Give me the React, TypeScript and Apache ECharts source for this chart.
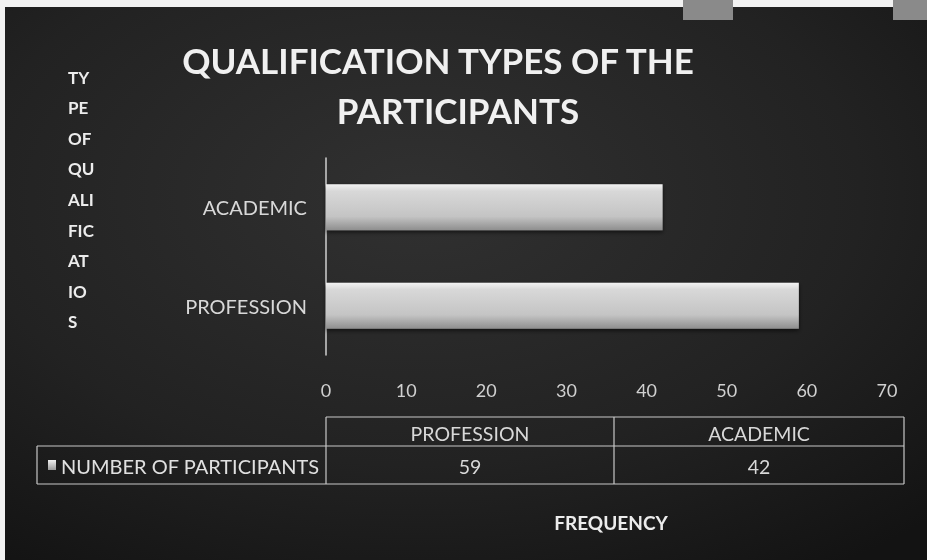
import React, { useEffect, useRef } from "react";
import * as echarts from "echarts";

const titleLines = ["QUALIFICATION TYPES OF THE", "PARTICIPANTS"];
const yTitleParts = ["TY", "PE", "OF", "QU", "ALI", "FIC", "AT", "IO", "S"];
const categories = ["PROFESSION", "ACADEMIC"];
const seriesName = "NUMBER OF PARTICIPANTS";
const participants = [59, 42];
const xTicks = { min: 0, max: 70, interval: 10 };
const xTitle = "FREQUENCY";

const FONT = "Lato, 'Open Sans', sans-serif";

export default function App() {
  const ref = useRef<HTMLDivElement>(null);
  useEffect(() => {
    document.body.style.margin = "0";
    const chart = echarts.init(ref.current!, null, { renderer: "svg" });

    const gridLeft = 326;
    const gridRight = 40;
    const tblLeft = 37, tblMid1 = 326, tblMid2 = 614, tblRight = 904;
    const tblTop = 417, tblSep = 446, tblBottom = 484;
    const lineStyle = { stroke: "#c8c8c8", lineWidth: 1.2 };

    const graphics: any[] = [];
    // background
    graphics.push({
      type: "rect", left: 0, top: 0, z: -10, silent: true,
      shape: { width: 927, height: 560 },
      style: {
        fill: new echarts.graphic.RadialGradient(0.45, 0.35, 0.8, [
          { offset: 0, color: "#313131" },
          { offset: 0.6, color: "#222222" },
          { offset: 1, color: "#131313" },
        ]),
      },
    });
    // white border strips
    graphics.push({ type: "rect", z: -9, shape: { x: 0, y: 0, width: 927, height: 7 }, style: { fill: "#f2f2f2" } });
    graphics.push({ type: "rect", z: -9, shape: { x: 0, y: 0, width: 5, height: 560 }, style: { fill: "#f2f2f2" } });
    graphics.push({ type: "rect", z: -8, shape: { x: 683, y: 0, width: 50, height: 20 }, style: { fill: "#8a8a8a" } });
    graphics.push({ type: "rect", z: -8, shape: { x: 893, y: 0, width: 34, height: 20 }, style: { fill: "#8a8a8a" } });

    // title
    titleLines.forEach((t, i) => {
      graphics.push({
        type: "text", x: i === 0 ? 438 : 458, y: 60 + i * 50,
        style: { text: t, fill: "#f0f0f0", font: `bold 35px ${FONT}`, align: "center", verticalAlign: "middle",
          shadowColor: "rgba(0,0,0,0.8)", shadowBlur: 4, shadowOffsetX: 2, shadowOffsetY: 2 },
      });
    });
    // y title stacked
    yTitleParts.forEach((t, i) => {
      graphics.push({
        type: "text", x: 68, y: 77 + i * 30.6,
        style: { text: t, fill: "#ececec", font: `bold 17px ${FONT}`, align: "left", verticalAlign: "middle" },
      });
    });
    // x title
    graphics.push({
      type: "text", x: 611, y: 522,
      style: { text: xTitle, fill: "#ececec", font: `bold 19px ${FONT}`, align: "center", verticalAlign: "middle" },
    });

    // data table
    const hl = (x1: number, y1: number, x2: number, y2: number) =>
      graphics.push({ type: "line", shape: { x1, y1, x2, y2 }, style: lineStyle });
    hl(tblMid1, tblTop, tblRight, tblTop);
    hl(tblLeft, tblSep, tblRight, tblSep);
    hl(tblLeft, tblBottom, tblRight, tblBottom);
    hl(tblLeft, tblSep, tblLeft, tblBottom);
    hl(tblMid1, tblTop, tblMid1, tblBottom);
    hl(tblMid2, tblTop, tblMid2, tblBottom);
    hl(tblRight, tblTop, tblRight, tblBottom);
    const colCenters = [(tblMid1 + tblMid2) / 2, (tblMid2 + tblRight) / 2];
    categories.forEach((c, i) => {
      graphics.push({
        type: "text", x: colCenters[i], y: (tblTop + tblSep) / 2 + 2,
        style: { text: c, fill: "#d8d8d8", font: `19.5px ${FONT}`, align: "center", verticalAlign: "middle" },
      });
      graphics.push({
        type: "text", x: colCenters[i], y: (tblSep + tblBottom) / 2 + 1,
        style: { text: String(participants[i]), fill: "#d8d8d8", font: `19.5px ${FONT}`, align: "center", verticalAlign: "middle" },
      });
    });
    graphics.push({
      type: "rect", shape: { x: 48, y: 460, width: 8, height: 10 },
      style: { fill: new echarts.graphic.LinearGradient(0, 0, 0, 1, [
        { offset: 0, color: "#f0f0f0" }, { offset: 1, color: "#9a9a9a" }]) },
    });
    graphics.push({
      type: "text", x: 61, y: (tblSep + tblBottom) / 2 + 1,
      style: { text: seriesName, fill: "#e0e0e0", font: `20px ${FONT}`, align: "left", verticalAlign: "middle" },
    });

    chart.setOption({
      animation: false,
      backgroundColor: "transparent",
      grid: { left: gridLeft, right: gridRight, top: 158, bottom: 205 },
      xAxis: {
        type: "value", min: xTicks.min, max: xTicks.max, interval: xTicks.interval,
        axisLine: { show: false }, axisTick: { show: false }, splitLine: { show: false },
        axisLabel: { color: "#d0d0d0", fontSize: 18, fontFamily: FONT, margin: 26 },
      },
      yAxis: {
        type: "category", data: categories,
        axisLine: { show: true, lineStyle: { color: "#cfcfcf", width: 1.5 } },
        axisTick: { show: false },
        axisLabel: { color: "#d8d8d8", fontSize: 20, fontFamily: FONT, margin: 19, padding: [7, 0, 0, 0] },
      },
      series: [{
        type: "bar", name: seriesName, data: participants, barWidth: 46,
        itemStyle: {
          color: new echarts.graphic.LinearGradient(0, 0, 0, 1, [
            { offset: 0, color: "#f2f2f2" },
            { offset: 0.15, color: "#d8d8d8" },
            { offset: 0.7, color: "#c4c4c4" },
            { offset: 1, color: "#8e8e8e" },
          ]),
          shadowColor: "rgba(0,0,0,0.6)", shadowBlur: 4, shadowOffsetY: 2,
        },
      }],
      graphic: graphics,
    });
    return () => chart.dispose();
  }, []);
  return <div ref={ref} style={{ position: "fixed", left: 0, top: 0, width: 927, height: 560 }} />;
}
